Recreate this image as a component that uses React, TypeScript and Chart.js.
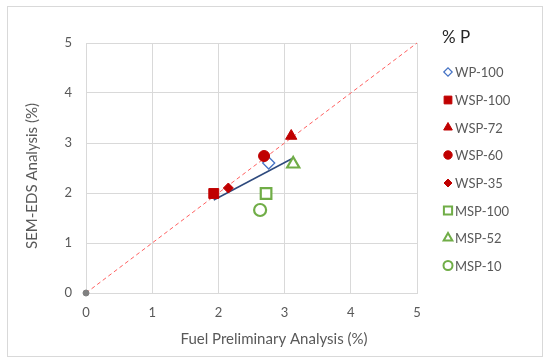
import React, { useEffect, useRef } from 'react';
import { Chart, registerables } from 'chart.js';
import { drawPoint } from 'chart.js/helpers';

Chart.register(...registerables);

// ---- data ----
const seriesNames = ['WP-100', 'WSP-100', 'WSP-72', 'WSP-60', 'WSP-35', 'MSP-100', 'MSP-52', 'MSP-10'];
const fuelX = [2.76, 1.93, 3.1, 2.69, 2.15, 2.72, 3.13, 2.63];
const semY = [2.6, 1.99, 3.14, 2.74, 2.1, 1.99, 2.58, 1.66];
const trendX = [1.93, 3.13];
const trendY = [1.86, 2.7];
const parityX = [0, 5];
const parityY = [0, 5];
const axisTicks = [0, 1, 2, 3, 4, 5];
const legendTitle = '% P';
const xTitle = 'Fuel Preliminary Analysis (%)';
const yTitle = 'SEM-EDS Analysis (%)';

// ---- styles ----
const RED = '#C00000';
const BLUE = '#4472C4';
const GREEN = '#70AD47';
const markerStyles = [
  { style: 'rectRot', color: BLUE, fill: '#ffffff', r: 6, bw: 1.3, lr: 4.2, lbw: 1.2 },
  { style: 'rect', color: RED, fill: RED, r: 7, bw: 1, lr: 5.5, lbw: 1 },
  { style: 'triangle', color: RED, fill: RED, r: 6.5, bw: 1, lr: 5, lbw: 1 },
  { style: 'circle', color: RED, fill: RED, r: 5.5, bw: 1, lr: 4.2, lbw: 1 },
  { style: 'rectRot', color: RED, fill: RED, r: 5, bw: 1, lr: 4, lbw: 1 },
  { style: 'rect', color: GREEN, fill: '#ffffff', r: 7.5, bw: 2.2, lr: 5.8, lbw: 2 },
  { style: 'triangle', color: GREEN, fill: '#ffffff', r: 7, bw: 2.2, lr: 5, lbw: 2 },
  { style: 'circle', color: GREEN, fill: '#ffffff', r: 6, bw: 2.2, lr: 4.5, lbw: 2 },
];

const FONT = 'Lato, Carlito, "Open Sans", sans-serif';
const GRID = '#d9d9d9';
const TEXT = '#595959';

const decorPlugin = {
  id: 'decor',
  beforeDraw(chart: any) {
    const ctx = chart.ctx;
    ctx.save();
    ctx.fillStyle = '#ffffff';
    ctx.fillRect(0, 0, chart.width, chart.height);
    ctx.strokeStyle = GRID;
    ctx.lineWidth = 1;
    ctx.strokeRect(7.5, 6.5, 535, 350);
    ctx.restore();
  },
  afterDraw(chart: any) {
    const ctx = chart.ctx;
    ctx.save();
    // axis titles
    ctx.fillStyle = TEXT;
    ctx.font = `15px ${FONT}`;
    ctx.textAlign = 'center';
    ctx.textBaseline = 'middle';
    ctx.fillText(xTitle, 274, 339);
    ctx.save();
    ctx.translate(32, 176);
    ctx.rotate(-Math.PI / 2);
    ctx.fillText(yTitle, 0, 0);
    ctx.restore();
    // legend
    ctx.textAlign = 'left';
    ctx.fillStyle = '#262626';
    ctx.font = `17px ${FONT}`;
    ctx.fillText(legendTitle, 442, 38);
    ctx.font = `13px ${FONT}`;
    const ys = [72, 100, 127.5, 155, 183, 210.5, 238, 265.5];
    seriesNames.forEach((name, i) => {
      const m = markerStyles[i];
      ctx.fillStyle = m.fill;
      ctx.strokeStyle = m.color;
      ctx.lineWidth = m.lbw;
      drawPoint(ctx, { pointStyle: m.style, radius: m.lr, rotation: 0, borderWidth: m.lbw } as any, 448, ys[i]);
      ctx.fillStyle = TEXT;
      ctx.fillText(name, 455, ys[i] + 1);
    });
    ctx.restore();
  },
};

export default function App() {
  const ref = useRef<HTMLCanvasElement>(null);
  useEffect(() => {
    if (!ref.current) return;
    const datasets: any[] = [];
    datasets.push({
      type: 'line',
      label: 'parity',
      data: parityX.map((x, i) => ({ x, y: parityY[i] })),
      borderColor: '#FF6060',
      borderWidth: 1,
      borderDash: [4, 3],
      pointRadius: [3, 0],
      pointBackgroundColor: '#808080',
      pointBorderColor: '#808080',
      showLine: true,
      fill: false,
      clip: false,
      order: 20,
    });
    datasets.push({
      type: 'line',
      label: 'trend',
      data: trendX.map((x, i) => ({ x, y: trendY[i] })),
      borderColor: '#2E4A7D',
      borderWidth: 1.5,
      pointRadius: 0,
      showLine: true,
      fill: false,
      order: 15,
    });
    seriesNames.forEach((name, i) => {
      const m = markerStyles[i];
      datasets.push({
        type: 'scatter',
        label: name,
        data: [{ x: fuelX[i], y: semY[i] }],
        pointStyle: m.style,
        pointRadius: m.r,
        pointBorderWidth: m.bw,
        pointBorderColor: m.color,
        pointBackgroundColor: m.fill,
        order: 10 - i,
      });
    });
    const chart = new Chart(ref.current, {
      type: 'scatter',
      data: { datasets },
      options: {
        animation: false,
        responsive: false,
        devicePixelRatio: 1,
        layout: { padding: { left: 0, top: 43, right: 133, bottom: 0 } },
        plugins: { legend: { display: false }, tooltip: { enabled: false } },
        scales: {
          x: {
            type: 'linear',
            min: 0,
            max: 5,
            afterFit: (s: any) => { s.height = 71; },
            afterBuildTicks: (s: any) => { s.ticks = axisTicks.map((v) => ({ value: v })); },
            grid: { color: GRID, drawTicks: false },
            border: { color: GRID },
            ticks: { color: TEXT, font: { family: FONT, size: 13 }, padding: 12 },
          },
          y: {
            type: 'linear',
            min: 0,
            max: 5,
            afterFit: (s: any) => { s.width = 86; },
            afterBuildTicks: (s: any) => { s.ticks = axisTicks.map((v) => ({ value: v })); },
            grid: { color: GRID, drawTicks: false },
            border: { color: GRID },
            ticks: { color: TEXT, font: { family: FONT, size: 13 }, padding: 14 },
          },
        },
      },
      plugins: [decorPlugin],
    });
    return () => chart.destroy();
  }, []);
  return (
    <div style={{ position: 'fixed', left: 0, top: 0, width: 550, height: 364 }}>
      <canvas ref={ref} width={550} height={364} style={{ display: 'block' }} />
    </div>
  );
}
